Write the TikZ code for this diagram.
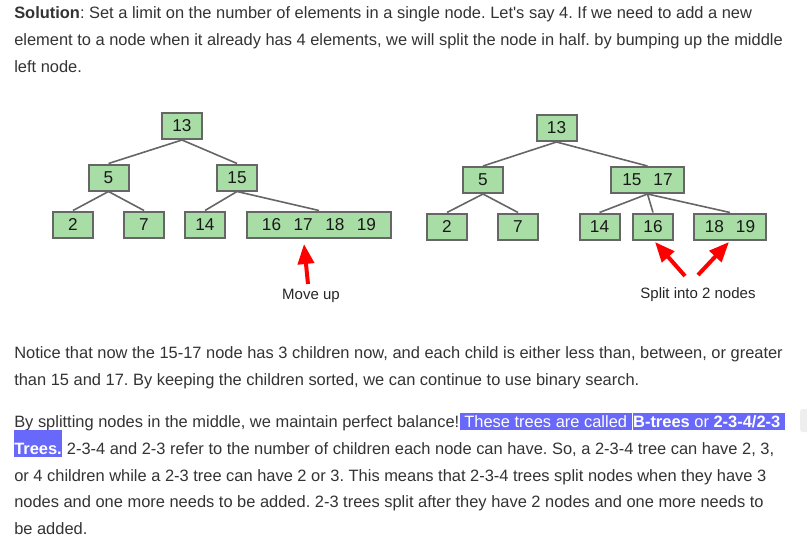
\documentclass[tikz,border=0pt]{standalone}
\usepackage{fontspec}
\setmainfont{Liberation Sans}
\usetikzlibrary{arrows.meta}
\definecolor{txt}{HTML}{333333}
\definecolor{boxfill}{HTML}{A9DDA6}
\definecolor{boxline}{HTML}{666666}
\definecolor{hlblue}{HTML}{6868FA}
\definecolor{uigray}{HTML}{EEEEEE}
\frenchspacing
\begin{document}
\begin{tikzpicture}[x=0.75pt,y=-0.75pt,
  tbox/.style={draw=boxline, fill=boxfill, line width=1.5pt, minimum height=19.5pt,
    minimum width=30pt, inner sep=0pt, font=\fontsize{12.9}{14}\selectfont, text=black!90},
  edge/.style={draw=boxline, line width=1.2pt},
  redarrow/.style={draw=red, line width=3pt, -{Triangle[length=15pt,width=12pt]}},
  para/.style={anchor=base west, inner sep=0pt, font=\fontsize{12.33}{14}\selectfont, text=txt},
  hl/.style={fill=hlblue, text=white, text height=10.5pt, text depth=2.25pt},
  capt/.style={anchor=base, inner sep=0pt, font=\fontsize{11.25}{13}\selectfont, text=black!85}]
\useasboundingbox (0,0) rectangle (807,539);
\fill[white] (0,0) rectangle (807,539);

% ---------- top paragraph ----------
\node[para] (t1) at (14,18.5) {\textbf{Solution}: Set a limit on the number of elements in a single node. Let\textquotesingle s say 4. If we need to add a new};
\node[para] (t2) at (14,45.5) {element to a node when it already has 4 elements, we will split the node in half. by bumping up the middle};
\node[para] (t3) at (14,72.5) {left node.};

% ---------- left tree ----------
\node[tbox] (L13) at (182,126) {13};
\node[tbox] (L5) at (108.5,177.5) {5};
\node[tbox] (L15) at (237,177.5) {15};
\node[tbox] (L2) at (73,224.5) {2};
\node[tbox] (L7) at (144,224.5) {7};
\node[tbox] (L14) at (205,224.5) {14};
\node[tbox, minimum width=108pt] (Lbig) at (319,224.5) {16\hspace{9.4pt}17\hspace{9.4pt}18\hspace{9.4pt}19};
\draw[edge] (L13.south) -- (L5.north);
\draw[edge] (L13.south) -- (L15.north);
\draw[edge] (L5.south) -- (L2.north);
\draw[edge] (L5.south) -- (L7.north);
\draw[edge] (L15.south) -- (L14.north);
\draw[edge] (L15.south) -- (Lbig.north);
\node[capt] (mv) at (311,299) {Move up};
\coordinate (mvtail) at (308,284);
\coordinate (mvtip) at (304,244);
\draw[redarrow] (mvtail) -- (mvtip);

% ---------- right tree ----------
\node[tbox] (R13) at (556.5,128) {13};
\node[tbox] (R5) at (483,180) {5};
\node[tbox, minimum width=54.75pt] (R1517) at (647.5,180) {15\hspace{9pt}17};
\node[tbox] (R2) at (447,226.5) {2};
\node[tbox] (R7) at (518,226.5) {7};
\node[tbox] (R14) at (599.5,226.5) {14};
\node[tbox] (R16) at (653,226.5) {16};
\node[tbox, minimum width=54pt] (R1819) at (730,226.5) {18\hspace{9pt}19};
\draw[edge] (R13.south) -- (R5.north);
\draw[edge] (R13.south) -- (R1517.north);
\draw[edge] (R5.south) -- (R2.north);
\draw[edge] (R5.south) -- (R7.north);
\draw[edge] (R1517.south) -- (R14.north);
\draw[edge] (R1517.south) -- (R16.north);
\draw[edge] (R1517.south) -- (R1819.north);
\node[capt] (sp) at (698,298) {Split into 2 nodes};
\coordinate (sptailA) at (685,276);
\coordinate (sptipA) at (655,242);
\coordinate (sptailB) at (698,275);
\coordinate (sptipB) at (729,242);
\draw[redarrow] (sptailA) -- (sptipA);
\draw[redarrow] (sptailB) -- (sptipB);

% ---------- bottom paragraphs ----------
\node[para] (b1) at (14,358) {Notice that now the 15-17 node has 3 children now, and each child is either less than, between, or greater};
\node[para] (b2) at (14,385) {than 15 and 17. By keeping the children sorted, we can continue to use binary search.};
\node[para] (b3a) at (14,427) {By splitting nodes in the middle, we maintain perfect balance!};
\node[para, hl] (b3b) at (b3a.base east) {\ These trees are called\ \mbox{}};
\node[para, hl] (b3c) at ([xshift=0.75pt]b3b.base east) {\textbf{B-trees} or \textbf{2-3-4/2-3}\ \mbox{}};
\node[para, fill=hlblue, text=white, text height=18pt, text depth=2.6pt] (b4a) at (14,454) {\textbf{Trees.}};
\node[para] (b4b) at (b4a.base east) {\ 2-3-4 and 2-3 refer to the number of children each node can have. So, a 2-3-4 tree can have 2, 3,};
\node[para] (b5) at (14,481) {or 4 children while a 2-3 tree can have 2 or 3. This means that 2-3-4 trees split nodes when they have 3};
\node[para] (b6) at (14,507.5) {nodes and one more needs to be added. 2-3 trees split after they have 2 nodes and one more needs to};
\node[para] (b7) at (14,534) {be added.};

% UI element at right edge
\fill[uigray, rounded corners=2pt] (800,409) rectangle (811,432);
\end{tikzpicture}
\end{document}
